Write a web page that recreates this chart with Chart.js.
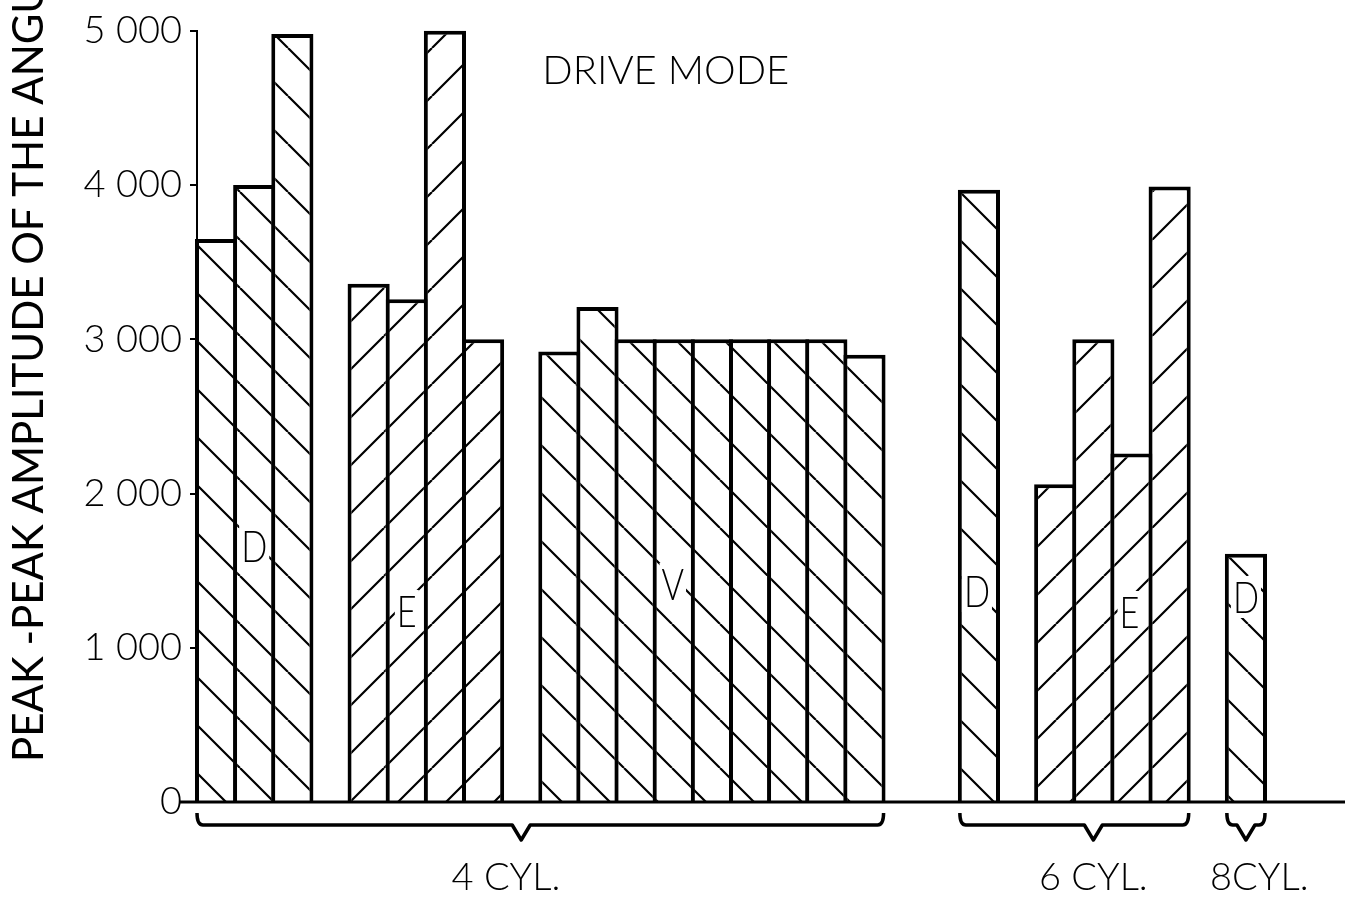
<!DOCTYPE html>
<html>
<head>
<meta charset="utf-8">
<script src="https://cdn.jsdelivr.net/npm/chart.js@4.4.1/dist/chart.umd.min.js"></script>
<style>
  html, body { margin: 0; padding: 0; background: #fff; }
  #wrap { width: 1354px; height: 900px; position: relative; }
</style>
</head>
<body>
<div id="wrap"><canvas id="grafico"></canvas></div>
<script>
// one slot per bar, empty slots are the gaps between groups
var categories = ['4D-1', '4D-2', '4D-3', '',
    '4E-1', '4E-2', '4E-3', '4E-4', '',
    '4V-1', '4V-2', '4V-3', '4V-4', '4V-5', '4V-6', '4V-7', '4V-8', '4V-9', '', '',
    '6D-1', '',
    '6E-1', '6E-2', '6E-3', '6E-4', '',
    '8D-1'];
var modes = ['D', 'D', 'D', null,
    'E', 'E', 'E', 'E', null,
    'V', 'V', 'V', 'V', 'V', 'V', 'V', 'V', 'V', null, null,
    'D', null,
    'E', 'E', 'E', 'E', null,
    'D'];
var amplitude = [3650, 4000, 4980, null,
    3360, 3260, 5000, 3000, null,
    2920, 3210, 3000, 3000, 3000, 3000, 3000, 3000, 2900, null, null,
    3970, null,
    2060, 3000, 2260, 3990, null,
    1610];
var yTickLabels = ['0', '1 000', '2 000', '3 000', '4 000', '5 000'];
var cylLabels = ['4 CYL.', '6 CYL.', '8CYL.'];
var cylFirst = [0, 20, 27];
var cylLast = [17, 25, 27];
var modeLetters = ['D', 'E', 'V', 'D', 'E', 'D'];
var modeLetterBar = [1, 5, 12, 20, 24, 27];

var fonte = 'Lato, "DejaVu Sans", sans-serif';

function hachura(direcao) {
    var s = 48;
    var c = document.createElement('canvas');
    c.width = s;
    c.height = s;
    var g = c.getContext('2d');
    g.fillStyle = '#fff';
    g.fillRect(0, 0, s, s);
    g.strokeStyle = '#000';
    g.lineWidth = 2.2;
    g.beginPath();
    [-s, 0, s].forEach(function(off) {
        if (direcao === '\\') {
            g.moveTo(off, 0);
            g.lineTo(off + s, s);
        } else {
            g.moveTo(off, s);
            g.lineTo(off + s, 0);
        }
    });
    g.stroke();
    return g.createPattern(c, 'repeat');
}
var hachuraDesce = hachura('\\');
var hachuraSobe = hachura('/');

// extra decorations: base line, braces, texts
var desenhos = {
    id: 'desenhos',
    afterDatasetsDraw: function(chart, args, opts) {
        var ctx = chart.ctx;
        var area = chart.chartArea;
        var x = chart.scales.x;
        var slot = x.getPixelForValue(1) - x.getPixelForValue(0);
        ctx.save();
        ctx.strokeStyle = '#000';
        ctx.fillStyle = '#000';

        // base line
        ctx.lineWidth = 3;
        ctx.beginPath();
        ctx.moveTo(area.left - 17, area.bottom);
        ctx.lineTo(area.right + 80, area.bottom);
        ctx.stroke();

        // braces
        ctx.lineWidth = 3.5;
        ctx.lineJoin = 'round';
        var y0 = area.bottom + 11, yh = area.bottom + 23, yt = area.bottom + 38;
        for (var i = 0; i < cylLabels.length; i++) {
            var x0 = x.getPixelForValue(cylFirst[i]) - slot / 2;
            var x1 = x.getPixelForValue(cylLast[i]) + slot / 2;
            var xt = x.getPixelForValue(opts.tips[i]);
            ctx.beginPath();
            ctx.moveTo(x0, y0);
            ctx.quadraticCurveTo(x0, yh, x0 + 6, yh);
            ctx.lineTo(xt - 9, yh);
            ctx.lineTo(xt, yt);
            ctx.lineTo(xt + 9, yh);
            ctx.lineTo(x1 - 6, yh);
            ctx.quadraticCurveTo(x1, yh, x1, y0);
            ctx.stroke();

            ctx.font = '300 38px ' + fonte;
            ctx.textAlign = 'center';
            ctx.textBaseline = 'alphabetic';
            ctx.fillText(cylLabels[i], x.getPixelForValue(opts.labelAt[i]), area.bottom + 88);
        }

        // mode letters inside the bars
        ctx.font = '300 44px ' + fonte;
        for (var j = 0; j < modeLetters.length; j++) {
            var lx = x.getPixelForValue(modeLetterBar[j]) + opts.letterDx[j];
            var ly = area.bottom - opts.letterUp[j];
            var w = ctx.measureText(modeLetters[j]).width * 0.78;
            ctx.fillStyle = '#fff';
            ctx.fillRect(lx - w / 2 - 2, ly - 37, w + 4, 42);
            ctx.fillStyle = '#000';
            ctx.save();
            ctx.translate(lx, ly);
            ctx.scale(0.78, 1);
            ctx.textAlign = 'center';
            ctx.fillText(modeLetters[j], 0, 0);
            ctx.restore();
        }

        // chart title
        ctx.font = '300 40px ' + fonte;
        ctx.textAlign = 'left';
        ctx.fillText('DRIVE MODE', x.getPixelForValue(9) - slot / 2 + 2, area.top + 53);

        // y axis title, cut at the top like the scan
        ctx.save();
        ctx.translate(43, 762);
        ctx.rotate(-Math.PI / 2);
        ctx.font = '400 42px ' + fonte;
        ctx.textAlign = 'left';
        ctx.fillText('PEAK -PEAK AMPLITUDE OF THE ANGU', 0, 0);
        ctx.restore();

        ctx.restore();
    }
};

var ctx = document.getElementById('grafico').getContext('2d');

var myChart = new Chart(ctx, {
    type: 'bar',
    data: {
        labels: categories,
        datasets: [{
            data: amplitude,
            backgroundColor: function(c) {
                return modes[c.dataIndex] === 'E' ? hachuraSobe : hachuraDesce;
            },
            borderColor: '#000',
            borderWidth: 4,
            borderSkipped: 'bottom',
            barPercentage: 1.105,
            categoryPercentage: 1,
            clip: false
        }]
    },
    options: {
        responsive: true,
        maintainAspectRatio: false,
        animation: false,
        layout: {
            padding: { top: 29, right: 89, bottom: 98, left: 0 }
        },
        plugins: {
            legend: { display: false },
            tooltip: { enabled: false },
            desenhos: {
                tips: [8, 23, 27],
                labelAt: [7.6, 23, 27.35],
                letterDx: [0, 0, -1, -2, -2, 0],
                letterUp: [240, 175, 202, 195, 174, 189]
            }
        },
        scales: {
            x: {
                display: false
            },
            y: {
                min: 0,
                max: 5000,
                afterFit: function(s) { s.width = 197; },
                ticks: {
                    stepSize: 1000,
                    padding: 8,
                    color: '#000',
                    font: { family: fonte, size: 38, weight: 300 },
                    callback: function(v) { return yTickLabels[v / 1000]; }
                },
                grid: {
                    drawOnChartArea: false,
                    drawTicks: true,
                    tickLength: 7,
                    color: '#000',
                    lineWidth: 2
                },
                border: { display: true, color: '#000', width: 2 }
            }
        }
    },
    plugins: [desenhos]
});
</script>
</body>
</html>
